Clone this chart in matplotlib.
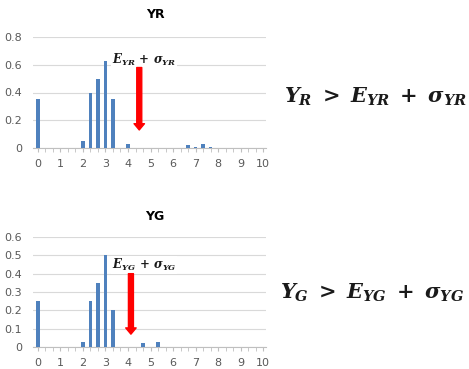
import matplotlib
matplotlib.use("Agg")
import matplotlib.pyplot as plt
import numpy as np

plt.rcParams['mathtext.fontset'] = 'custom'
plt.rcParams['mathtext.it'] = 'DejaVu Serif:bold:italic'
plt.rcParams['mathtext.rm'] = 'DejaVu Serif:bold'
plt.rcParams['mathtext.bf'] = 'DejaVu Serif:bold'

# ---- data ----
yr_x = [0, 2, 2.333, 2.667, 3, 3.333, 4, 6.667, 7, 7.333, 7.667]
yr_v = [0.35, 0.05, 0.40, 0.50, 0.63, 0.35, 0.03, 0.02, 0.01, 0.03, 0.01]
yg_x = [0, 2, 2.333, 2.667, 3, 3.333, 4.667, 5.333]
yg_v = [0.25, 0.03, 0.25, 0.35, 0.50, 0.20, 0.02, 0.03]

yr_yticks = [0, 0.2, 0.4, 0.6, 0.8]
yr_ylabels = ['0', '0.2', '0.4', '0.6', '0.8']
yg_yticks = [0, 0.1, 0.2, 0.3, 0.4, 0.5, 0.6]
yg_ylabels = ['0', '0.1', '0.2', '0.3', '0.4', '0.5', '0.6']
x_ticks = list(range(0, 11))
x_labels = [str(i) for i in x_ticks]

yr_arrow = (4.5, 0.58, 0.13)   # x, y_start, y_end
yg_arrow = (4.13, 0.40, 0.07)

yr_label = r'$E_{YR}\,+\,\sigma_{YR}$'
yg_label = r'$E_{YG}\,+\,\sigma_{YG}$'
yr_formula = r'$Y_R\;>\;E_{YR}\;+\;\sigma_{YR}$'
yg_formula = r'$Y_G\;>\;E_{YG}\;+\;\sigma_{YG}$'

BLUE = '#4F81BD'
GRAY = '#595959'

fig = plt.figure(figsize=(4.69, 3.69), dpi=100)

W, H = 469, 369


def make_axes(rect, xs, vs, yticks, ylabels, arrow, label, label_pos):
    ax = fig.add_axes(rect)
    ax.bar(xs, vs, width=0.14, color=BLUE, zorder=3)
    ax.set_xlim(-0.22, 10.13)
    ax.set_ylim(0, yticks[-1])
    ax.set_yticks(yticks)
    ax.set_yticklabels(ylabels)
    ax.set_xticks(x_ticks)
    ax.set_xticklabels(x_labels)
    ax.set_xticks(np.arange(0, 10.01, 1/3), minor=True)
    for s in ['top', 'right', 'left']:
        ax.spines[s].set_visible(False)
    ax.spines['bottom'].set_color('#BFBFBF')
    ax.grid(axis='y', color='#D9D9D9', lw=0.8, zorder=0)
    ax.tick_params(axis='y', length=0, labelsize=8, labelcolor=GRAY, pad=8)
    ax.tick_params(axis='x', which='both', length=3, color='#BFBFBF',
                   labelsize=8, labelcolor=GRAY, pad=5)
    x, y0, y1 = arrow
    ax.annotate('', xy=(x, y1), xytext=(x, y0),
                arrowprops=dict(arrowstyle='simple,head_length=0.45,head_width=0.75,tail_width=0.36',
                                color='red', mutation_scale=10, shrinkA=0, shrinkB=0),
                zorder=5)
    ax.text(label_pos[0], label_pos[1], label, fontsize=8.5, ha='center', va='center',
            color='#1a1a1a', zorder=2,
            bbox=dict(facecolor='white', edgecolor='none', pad=0.5))
    return ax


ax1 = make_axes([33/W, 1-148/H, 233/W, 111/H], yr_x, yr_v, yr_yticks, yr_ylabels,
                yr_arrow, yr_label, (4.72, 0.635))
ax2 = make_axes([33/W, 1-347/H, 233/W, 110/H], yg_x, yg_v, yg_yticks, yg_ylabels,
                yg_arrow, yg_label, (4.72, 0.447))

fig.text(155/W, 1-15/H, 'YR', fontsize=9, fontweight='bold', ha='center', va='center')
fig.text(155/W, 1-217/H, 'YG', fontsize=9, fontweight='bold', ha='center', va='center')

fig.text(376/W, 1-97/H, yr_formula, fontsize=15, ha='center', va='center', color='#1a1a1a')
fig.text(372/W, 1-293/H, yg_formula, fontsize=15, ha='center', va='center', color='#1a1a1a')

fig.savefig('out.png', dpi=100)
